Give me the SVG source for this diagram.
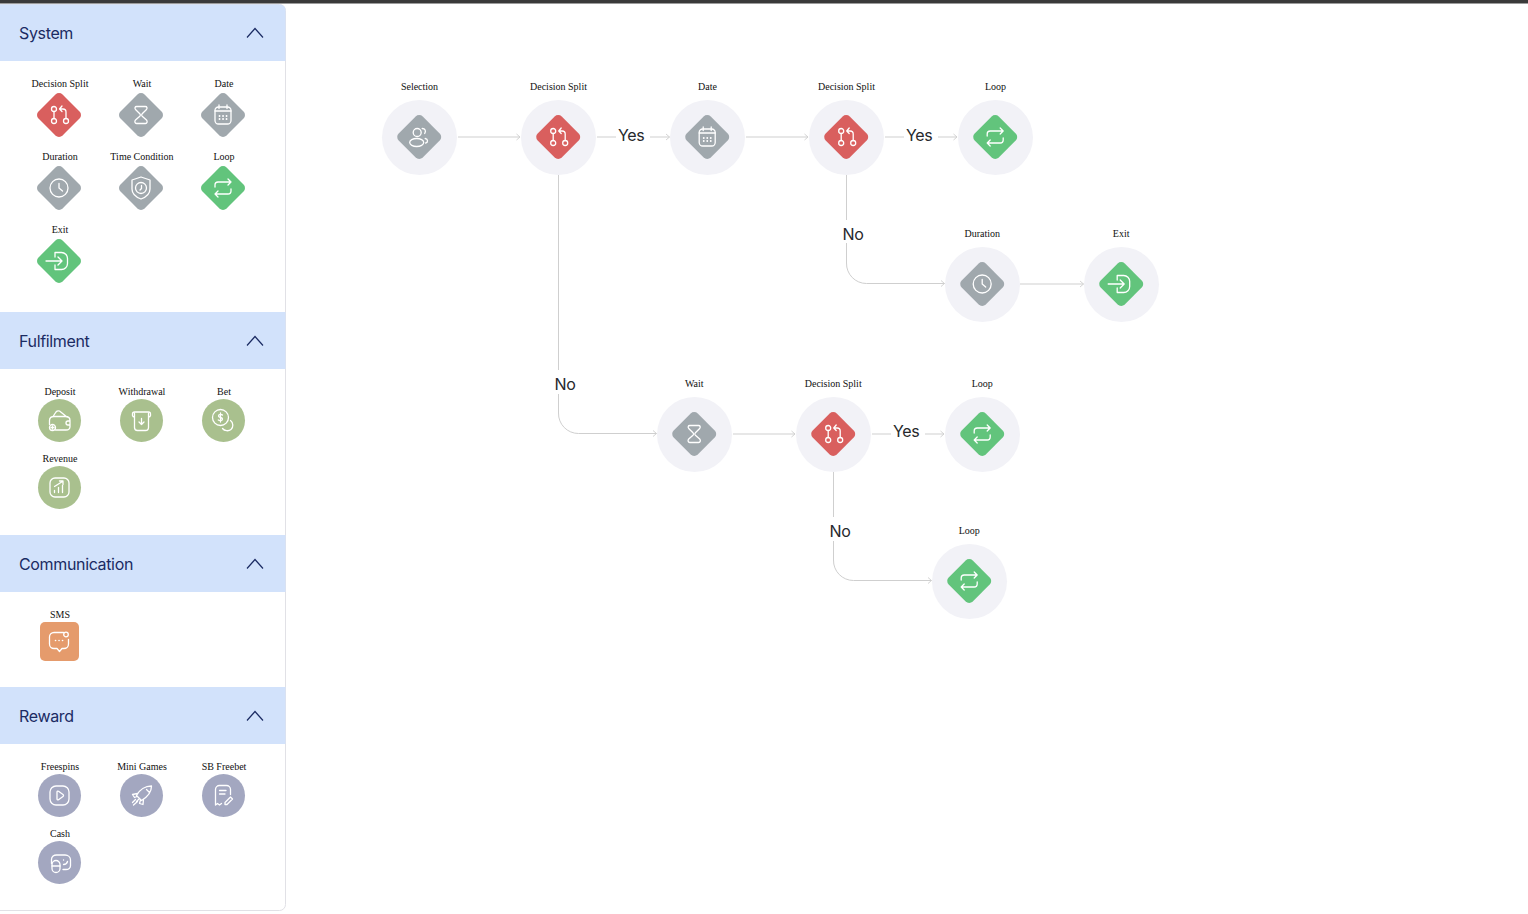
<svg xmlns="http://www.w3.org/2000/svg" width="1528" height="914" viewBox="0 0 1528 914">
<style>
text{font-family:"Liberation Serif","Times New Roman",serif;font-size:10px;fill:#111;text-anchor:middle}
.h{font-family:Inter,"Noto Sans",sans-serif;font-size:16px;letter-spacing:-.35px;fill:#1b2b63;text-anchor:start}
.e{font-family:Inter,"Noto Sans",sans-serif;font-size:16px;letter-spacing:-.35px;fill:#26282c;text-anchor:start}
.hd{fill:#d2e2fb}
.chev{fill:none;stroke:#1b2b63;stroke-width:1.2}
.i{fill:none;stroke:#fff;stroke-width:1.3;stroke-linecap:round;stroke-linejoin:round}
.bg{fill:#f2f2f7}
.c{fill:none;stroke:#cfcfcf;stroke-width:1}
.red{fill:#d95f5e}.gray{fill:#a0a8ad}.green{fill:#62c47c}.olive{fill:#a9c08e}.orange{fill:#e59b6c}.violet{fill:#a3a7c0}
</style>
<defs>
<marker id="arrow" viewBox="0 0 6 8" refX="5.5" refY="4" markerWidth="6" markerHeight="8" markerUnits="userSpaceOnUse" orient="auto"><path d="M2 1L5.5 4L2 7" fill="none" stroke="#cfcfcf" stroke-width="0.9"/></marker>
<rect id="d" x="-17" y="-17" width="34" height="34" rx="5" transform="rotate(45)"/>
<g id="split" class="i"><circle cx="-5" cy="-6" r="2.5"/><circle cx="-5" cy="6" r="2.5"/><circle cx="7" cy="6" r="2.5"/><path d="M-5 -3.500V3.500M7 3.500V-3a3 3 0 0 0-3-3H0.500M3 -9L0.500 -6L3 -3.500"/></g>
<g id="hour" class="i"><path d="M-4.500 -8.500H4.500C6 -8.500 6.500 -7 5.500 -5.500L1.200 -1.200C.4 -.4 .4 .4 1.200 1.200L5.500 5C6.800 6.500 6 8.500 4.500 8.500H-4.500C-6 8.500-6.800 6.500-5.500 5L-1.200 1.200C-.4 .4-.4 -.4-1.200 -1.200L-5.500 -5.500C-6.500 -7-6 -8.500-4.500 -8.500Z"/></g>
<g id="cal" class="i"><rect x="-8" y="-8" width="16" height="17" rx="3.500"/><path d="M-8 -4H8M-4 -10V-6.500M4 -10V-6.500"/><path d="M-3.500 1h.1M0 1h.1M3.500 1h.1M-3.500 4h.1M0 4h.1M3.500 4h.1" stroke-width="1.800"/></g>
<g id="clock" class="i"><circle r="9"/><path d="M0 -4.500V0L3.500 3"/></g>
<g id="shield" class="i"><path d="M0 -11L9 -8V1C9 6 4 9.500 0 11C-4 9.500-9 6-9 1V-8Z"/><circle r="5.500"/><path d="M0.500 -2.500V0.500L-1 2"/></g>
<g id="loop" class="i"><path d="M-8 -1V-3a3 3 0 0 1 3-3H8M5 -9L8 -6L5 -3M8 1V3a3 3 0 0 1-3 3H-8M-5 9L-8 6L-5 3"/></g>
<g id="exit" class="i"><path d="M-13 0H3M-1 -4L3 0L-1 4M-4 -4V-8.500H2.500a6 6 0 0 1 6 6V2.500a6 6 0 0 1-6 6H-4V4"/></g>
<g id="people" class="i"><circle cx="-2" cy="-4.500" r="4"/><ellipse cx="-2.500" cy="5.500" rx="7" ry="4"/><path d="M3 -8.500C6 -8.500 7 -6 5.500 -3.500M6 1.500C9 2 9 5.500 6.500 6"/></g>
<g id="wallet" class="i"><path d="M-10 4V0C-10 -3-8 -4-5.500 -4H6C8.500 -4 10.500 -2.500 10.500 0V6C10.500 8 9 9.500 6.500 9.500H-4M-6.500 -4L-3.500 -8.500C-2.500 -9.800-1 -9.800 0 -9.500L7.500 -3.500M10.500 .5H8.500a2 2 0 0 0 0 4H10.500"/><circle cx="-7" cy="7" r="3"/><path d="M-8.500 7H-5.500M-7 5.500V8.500"/></g>
<g id="withd" class="i"><path d="M-7 -7V7a3 3 0 0 0 3 3H4a3 3 0 0 0 3-3V-7M-7 -8.500H7a2 2 0 0 1 2 2V-5a2 2 0 0 1-2 1.500M-7 -8.500a2 2 0 0 0-2 2V-5a2 2 0 0 0 2 1.500M0 -2V4M-2.500 1.500L0 4L2.500 1.500"/></g>
<g id="bet" class="i"><circle cx="-3" cy="-3" r="8"/><path d="M-1 -5.500C-2 -6.500-5 -6.500-5 -4.500C-5 -2.500-1 -3.500-1 -1.500C-1 .5-4 .5-5.200 -.5M-3 -7.500V1.500"/><path d="M7 0C10 2 10 7 7.500 9C5 11 1 10.500-1 8"/></g>
<g id="rev" class="i"><rect x="-9.500" y="-9.500" width="19" height="19" rx="5"/><path d="M-5 -1L3 -6M0 -6.500H3.500V-3M-5 5V3M-1 5V0M3 5V-2"/></g>
<g id="sms" class="i"><path d="M4 -9H-5.500a4.500 4.500 0 0 0-4.500 4.500V2.500a4.500 4.500 0 0 0 4.500 4.500H-2.500L0 10L2.500 7H4.500a4.500 4.500 0 0 0 4.500-4.500V-2"/><circle cx="6.500" cy="-7" r="2.300"/><path d="M-4 -1h.1M-.500 -1h.1M3 -1h.1" stroke-width="1.600"/></g>
<g id="play" class="i"><rect x="-9.500" y="-9.500" width="19" height="19" rx="6"/><path d="M-2.500 -3.500C-2.500 -4.500-1.500 -4.500-1 -4.200L3.500 -1C4.200 -.5 4.200 .5 3.500 1L-1 4.200C-1.500 4.500-2.500 4.500-2.500 3.500Z"/></g>
<g id="rocket" class="i"><path d="M10 -9.500C4 -9.500-2 -6-5 0L0 5C5 2 10 -3 10 -9.500ZM-4 -2L-9 -1L-7 2L-4.500 1M2 4L1.500 9L-2 8L-1 4.500M5 -6L8 -3M-6 4L-9 7M-4 6L-8 9.500M-2.500 3.500L-5 6"/></g>
<g id="note" class="i"><path d="M-8 9.500V-6a4 4 0 0 1 4-4H3a4 4 0 0 1 4 4V-1M-8 9.500L-6 8L-4 9.500L-2 8M-4 -5H2.500M-4 -1.500H1.500M3.500 9L9 3.500L7 1.500L1.500 7V9Z"/></g>
<g id="cash" class="i"><path d="M-8 1V-3C-8 -6-5.500 -7.500-3 -7.500H5.500C8.500 -7.500 11 -5.500 11 -2.500V3C11 5.500 9 7 6.500 7H3.500M4 -2.500h.1M4 2C6 2 7.500 1 8 -1"/><rect x="-7.500" y="-2" width="8" height="12" rx="4"/><path d="M-7.500 3.500H.5" /></g>
</defs>
<rect width="1528" height="914" fill="#fff"/>
<rect width="1528" height="3.500" fill="#3a3a3a"/>
<g id="sidebar">
<rect x="-6" y="4.500" width="291.500" height="906" rx="6" fill="#fff" stroke="#e1e1e6"/>
<path class="hd" d="M0 4.500H280a5.500 5.500 0 0 1 5.500 5.500V61H0Z"/>
<rect class="hd" y="312" width="285.500" height="57"/>
<rect class="hd" y="535" width="285.500" height="57"/>
<rect class="hd" y="687" width="285.500" height="57"/>
<text class="h" x="19" y="39">System</text>
<text class="h" x="19" y="347">Fulfilment</text>
<text class="h" x="19" y="570">Communication</text>
<text class="h" x="19" y="722">Reward</text>
<path class="chev" d="M247 37.500L255 28.500L263 37.500"/>
<path class="chev" d="M247 345.500L255 336.500L263 345.500"/>
<path class="chev" d="M247 568.500L255 559.500L263 568.500"/>
<path class="chev" d="M247 720.500L255 711.500L263 720.500"/>
</g>
<g id="palette-decision-split"><text x="60" y="87">Decision Split</text><use href="#d" x="59" y="115" class="red"/><use href="#split" x="59" y="115"/></g>
<g id="palette-wait"><text x="142" y="87">Wait</text><use href="#d" x="141" y="115" class="gray"/><use href="#hour" x="141" y="115"/></g>
<g id="palette-date"><text x="224" y="87">Date</text><use href="#d" x="223" y="115" class="gray"/><use href="#cal" x="223" y="115"/></g>
<g id="palette-duration"><text x="60" y="160">Duration</text><use href="#d" x="59" y="188" class="gray"/><use href="#clock" x="59" y="188"/></g>
<g id="palette-time-condition"><text x="142" y="160">Time Condition</text><use href="#d" x="141" y="188" class="gray"/><use href="#shield" x="141" y="188"/></g>
<g id="palette-loop"><text x="224" y="160">Loop</text><use href="#d" x="223" y="188" class="green"/><use href="#loop" x="223" y="188"/></g>
<g id="palette-exit"><text x="60" y="233">Exit</text><use href="#d" x="59" y="261" class="green"/><use href="#exit" x="59" y="261"/></g>
<g id="palette-deposit"><text x="60" y="395">Deposit</text><circle cx="59.500" cy="420.500" r="21.500" class="olive"/><use href="#wallet" x="59.500" y="420.500"/></g>
<g id="palette-withdrawal"><text x="142" y="395">Withdrawal</text><circle cx="141.500" cy="420.500" r="21.500" class="olive"/><use href="#withd" x="141.500" y="420.500"/></g>
<g id="palette-bet"><text x="224" y="395">Bet</text><circle cx="223.500" cy="420.500" r="21.500" class="olive"/><use href="#bet" x="223.500" y="420.500"/></g>
<g id="palette-revenue"><text x="60" y="462">Revenue</text><circle cx="59.500" cy="487.500" r="21.500" class="olive"/><use href="#rev" x="59.500" y="487.500"/></g>
<g id="palette-sms"><text x="60" y="618">SMS</text><rect x="40" y="622" width="39" height="39" rx="5" class="orange"/><use href="#sms" x="59.500" y="641.500"/></g>
<g id="palette-freespins"><text x="60" y="770">Freespins</text><circle cx="59.500" cy="795.500" r="21.500" class="violet"/><use href="#play" x="59.500" y="795.500"/></g>
<g id="palette-mini-games"><text x="142" y="770">Mini Games</text><circle cx="141.500" cy="795.500" r="21.500" class="violet"/><use href="#rocket" x="141.500" y="795.500"/></g>
<g id="palette-sb-freebet"><text x="224" y="770">SB Freebet</text><circle cx="223.500" cy="795.500" r="21.500" class="violet"/><use href="#note" x="223.500" y="795.500"/></g>
<g id="palette-cash"><text x="60" y="837">Cash</text><circle cx="59.500" cy="862.500" r="21.500" class="violet"/><use href="#cash" x="59.500" y="862.500"/></g>
<g id="connectors">
<path class="c" marker-end="url(#arrow)" d="M458 137H520"/>
<path class="c" d="M597 137H616"/><path class="c" marker-end="url(#arrow)" d="M650 137H669.500"/>
<path class="c" marker-end="url(#arrow)" d="M746 137H808"/>
<path class="c" d="M885 137H904"/><path class="c" marker-end="url(#arrow)" d="M938 137H957"/>
<path class="c" d="M846.500 175V220"/><path class="c" marker-end="url(#arrow)" d="M846.500 243V263a20 20 0 0 0 20 20.500H944.500"/>
<path class="c" marker-end="url(#arrow)" d="M1020 284H1083.500"/>
<path class="c" d="M558.500 175V370"/><path class="c" marker-end="url(#arrow)" d="M558.500 394V413a20 20 0 0 0 20 20.500H656.500"/>
<path class="c" marker-end="url(#arrow)" d="M733 434H795"/>
<path class="c" d="M872 434H891"/><path class="c" marker-end="url(#arrow)" d="M925 434H944"/>
<path class="c" d="M833.500 472V517"/><path class="c" marker-end="url(#arrow)" d="M833.500 541V560a20 20 0 0 0 20 20.500H931.500"/>
</g>
<g id="edge-labels">
<text class="e" x="618" y="141">Yes</text>
<text class="e" x="906" y="141">Yes</text>
<text class="e" x="893" y="437">Yes</text>
<text class="e" x="842.500" y="240">No</text>
<text class="e" x="554.500" y="390">No</text>
<text class="e" x="829.500" y="537">No</text>
</g>
<g id="node-selection"><text x="419.500" y="90">Selection</text><circle cx="419.500" cy="137.500" r="37.500" class="bg"/><use href="#d" x="419.200" y="137" class="gray"/><use href="#people" x="419.200" y="137"/></g>
<g id="node-split-1"><text x="558.500" y="90">Decision Split</text><circle cx="558.500" cy="137.500" r="37.500" class="bg"/><use href="#d" x="558.200" y="137" class="red"/><use href="#split" x="558.200" y="137"/></g>
<g id="node-date"><text x="707.500" y="90">Date</text><circle cx="707.500" cy="137.500" r="37.500" class="bg"/><use href="#d" x="707.200" y="137" class="gray"/><use href="#cal" x="707.200" y="137"/></g>
<g id="node-split-2"><text x="846.500" y="90">Decision Split</text><circle cx="846.500" cy="137.500" r="37.500" class="bg"/><use href="#d" x="846.200" y="137" class="red"/><use href="#split" x="846.200" y="137"/></g>
<g id="node-loop-1"><text x="995.500" y="90">Loop</text><circle cx="995.500" cy="137.500" r="37.500" class="bg"/><use href="#d" x="995.200" y="137" class="green"/><use href="#loop" x="995.200" y="137"/></g>
<g id="node-duration"><text x="982.200" y="237">Duration</text><circle cx="982.500" cy="284.500" r="37.500" class="bg"/><use href="#d" x="982.200" y="284" class="gray"/><use href="#clock" x="982.200" y="284"/></g>
<g id="node-exit"><text x="1121.200" y="237">Exit</text><circle cx="1121.500" cy="284.500" r="37.500" class="bg"/><use href="#d" x="1121.200" y="284" class="green"/><use href="#exit" x="1121.200" y="284"/></g>
<g id="node-wait"><text x="694.200" y="387">Wait</text><circle cx="694.500" cy="434.500" r="37.500" class="bg"/><use href="#d" x="694.200" y="434" class="gray"/><use href="#hour" x="694.200" y="434"/></g>
<g id="node-split-3"><text x="833.200" y="387">Decision Split</text><circle cx="833.500" cy="434.500" r="37.500" class="bg"/><use href="#d" x="833.200" y="434" class="red"/><use href="#split" x="833.200" y="434"/></g>
<g id="node-loop-2"><text x="982.200" y="387">Loop</text><circle cx="982.500" cy="434.500" r="37.500" class="bg"/><use href="#d" x="982.200" y="434" class="green"/><use href="#loop" x="982.200" y="434"/></g>
<g id="node-loop-3"><text x="969.200" y="534">Loop</text><circle cx="969.500" cy="581.500" r="37.500" class="bg"/><use href="#d" x="969.200" y="581" class="green"/><use href="#loop" x="969.200" y="581"/></g>
</svg>
